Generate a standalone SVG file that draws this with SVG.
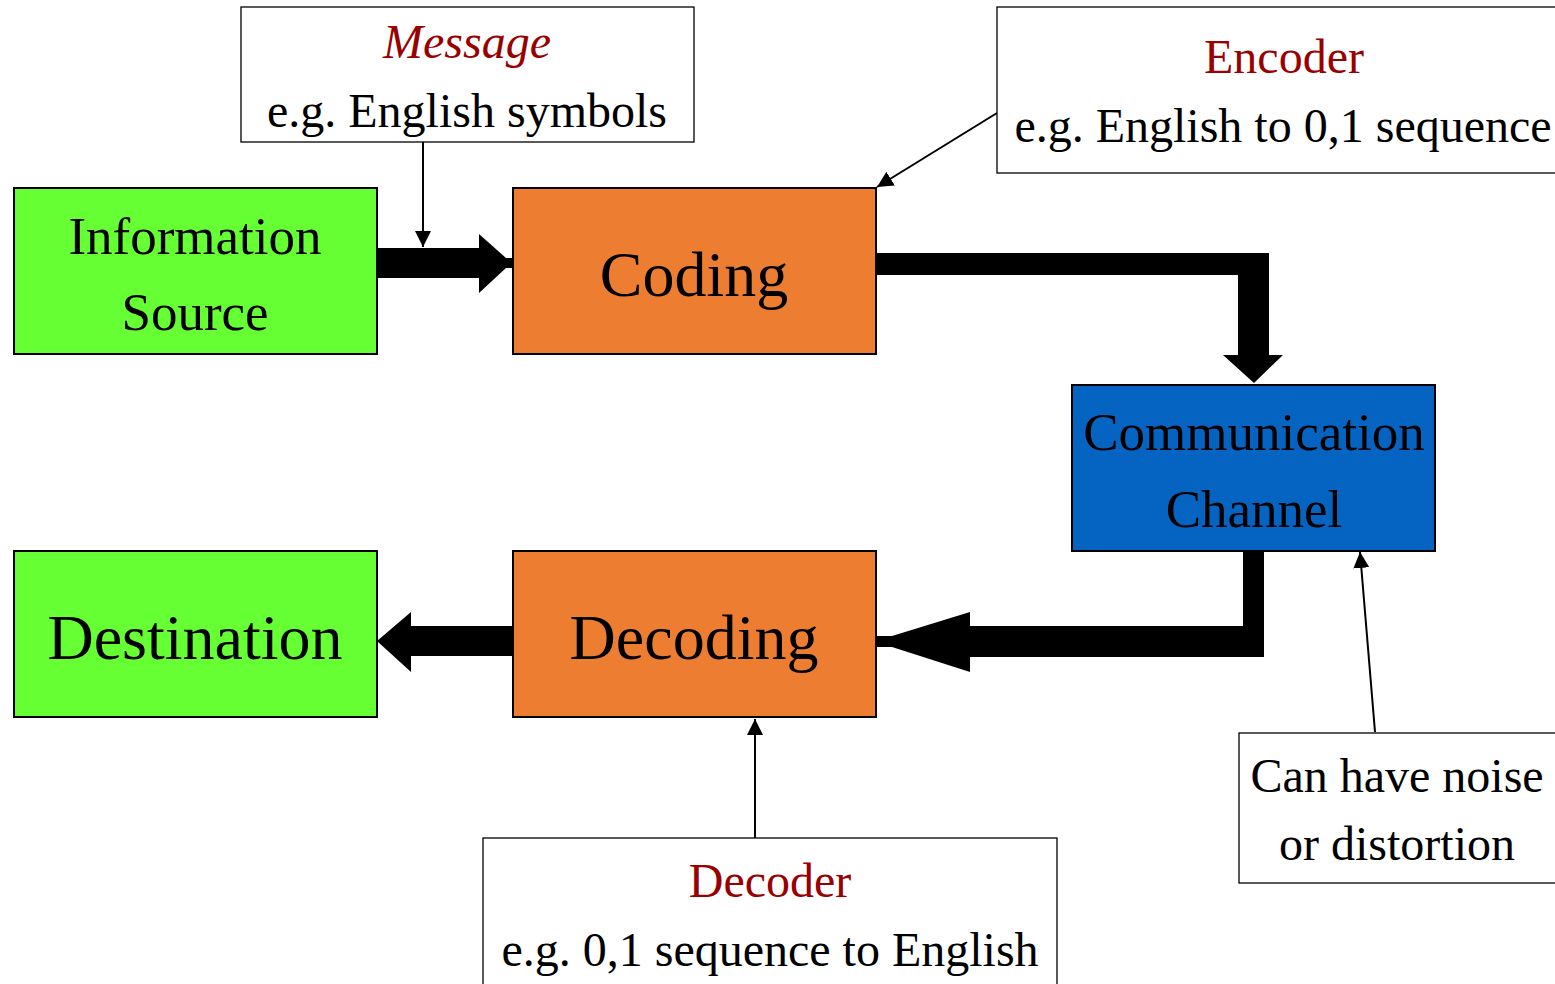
<svg xmlns="http://www.w3.org/2000/svg" width="1555" height="984" viewBox="0 0 1555 984">
<defs>
<style>
text{font-family:"Liberation Serif","Times New Roman",serif;text-anchor:middle;fill:#000}
.box{stroke:#000;stroke-width:2}
.note{fill:#fff;stroke:#000;stroke-width:1.3}
.red{fill:#990000}
.thin{stroke:#000;stroke-width:2;fill:none}
.big{fill:#000;stroke:none}
</style>
<marker id="ah" viewBox="0 0 10 10" refX="10" refY="5" markerWidth="16" markerHeight="16" markerUnits="userSpaceOnUse" orient="auto"><path d="M0,0 L10,5 L0,10 z" fill="#000"/></marker>
</defs>
<rect width="1555" height="984" fill="#fff"/>
<g id="connectors">
<polygon class="big" points="377,248 479,248 479,234 506,258 512,258 512,268 506,268 479,293 479,278 377,278"/>
<polygon class="big" points="876,253 1269,253 1269,355 1283,355 1254,383 1223,355 1238,355 1238,275 876,275"/>
<polygon class="big" points="1243,551 1264,551 1264,657 970,657 970,672 892,647 876,647 876,636 892,636 970,612 970,626 1243,626"/>
<polygon class="big" points="512,626 411,626 411,612 377,641 411,672 411,656 512,656"/>
<line class="thin" x1="423" y1="142" x2="423" y2="247" marker-end="url(#ah)"/>
<line class="thin" x1="997" y1="113" x2="877" y2="187" marker-end="url(#ah)"/>
<line class="thin" x1="1375" y1="732" x2="1360" y2="552" marker-end="url(#ah)"/>
<line class="thin" x1="755" y1="838" x2="755" y2="719" marker-end="url(#ah)"/>
</g>
<g id="source">
<rect class="box" x="14" y="188" width="363" height="166" fill="#66FF33"/>
<text x="195" y="254" font-size="53">Information</text>
<text x="195" y="330" font-size="53">Source</text>
</g>
<g id="coding">
<rect class="box" x="513" y="188" width="363" height="166" fill="#ED7D31"/>
<text x="694" y="296" font-size="64">Coding</text>
</g>
<g id="channel">
<rect class="box" x="1072" y="385" width="363" height="166" fill="#0563C1"/>
<text x="1254" y="450" font-size="53">Communication</text>
<text x="1254" y="527" font-size="53">Channel</text>
</g>
<g id="destination">
<rect class="box" x="14" y="551" width="363" height="166" fill="#66FF33"/>
<text x="195" y="659" font-size="64">Destination</text>
</g>
<g id="decoding">
<rect class="box" x="513" y="551" width="363" height="166" fill="#ED7D31"/>
<text x="694" y="659" font-size="64">Decoding</text>
</g>
<g id="message">
<rect class="note" x="241" y="7" width="453" height="135"/>
<text class="red" x="467" y="58" font-size="48" font-style="italic">Message</text>
<text x="467" y="127" font-size="48">e.g. English symbols</text>
</g>
<g id="encoder">
<rect class="note" x="997" y="7" width="580" height="166"/>
<text class="red" x="1284" y="73" font-size="48">Encoder</text>
<text x="1283" y="142" font-size="48">e.g. English to 0,1 sequence</text>
</g>
<g id="noise">
<rect class="note" x="1239" y="733" width="330" height="150"/>
<text x="1397" y="792" font-size="48">Can have noise</text>
<text x="1397" y="860" font-size="48">or distortion</text>
</g>
<g id="decoder">
<rect class="note" x="483" y="838" width="574" height="160"/>
<text class="red" x="770" y="897" font-size="48">Decoder</text>
<text x="770" y="966" font-size="48">e.g. 0,1 sequence to English</text>
</g>
</svg>
